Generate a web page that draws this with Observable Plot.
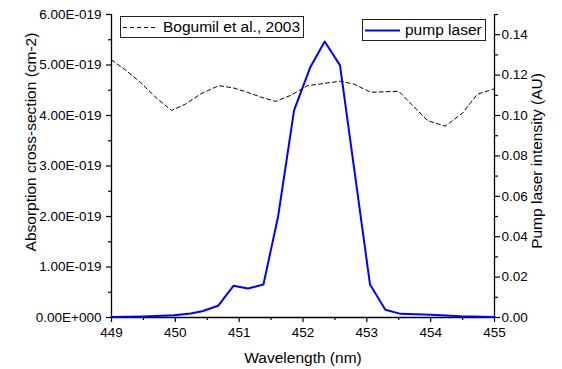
<!DOCTYPE html>
<html>
<head>
<meta charset="utf-8">
<script src="https://cdn.jsdelivr.net/npm/d3@7"></script>
<script src="https://cdn.jsdelivr.net/npm/@observablehq/plot@0.6"></script>
<style>
  html, body { margin: 0; padding: 0; background: #fff; }
  #wrap { position: relative; width: 562px; height: 369px; font-family: "Liberation Sans", Arial, sans-serif; }
  .legend { position: absolute; box-sizing: border-box; border: 1px solid #222; background: #fff;
            display: flex; align-items: center; font-size: 15.5px; color: #000; white-space: nowrap; }
  .legend svg { display: block; flex: none; }
</style>
</head>
<body>
<div id="wrap"></div>
<script>
// Bogumil et al., 2003 absorption cross-section (cm^2), left axis
const bogWavelength = [449.0, 449.2, 449.45, 449.7, 449.94, 450.15, 450.4, 450.68, 450.9, 451.13, 451.35, 451.57, 451.81, 452.07, 452.59, 452.8, 453.06, 453.5, 453.95, 454.23, 454.5, 454.73, 455.0];
const bogValue = [5.10e-19, 4.92e-19, 4.66e-19, 4.35e-19, 4.10e-19, 4.22e-19, 4.43e-19, 4.59e-19, 4.55e-19, 4.46e-19, 4.36e-19, 4.28e-19, 4.40e-19, 4.59e-19, 4.68e-19, 4.62e-19, 4.46e-19, 4.48e-19, 3.90e-19, 3.79e-19, 4.05e-19, 4.42e-19, 4.53e-19];

// pump laser intensity (AU), right axis
const pumpWavelength = [449.0, 449.5, 449.98, 450.24, 450.42, 450.67, 450.91, 451.14, 451.38, 451.61, 451.86, 452.11, 452.34, 452.58, 453.05, 453.29, 453.53, 454.0, 454.47, 455.0];
const pumpValue = [0.0002, 0.0005, 0.0011, 0.0020, 0.0031, 0.0058, 0.0157, 0.0144, 0.0163, 0.0500, 0.1025, 0.1236, 0.1366, 0.1248, 0.0163, 0.0038, 0.0018, 0.0013, 0.0006, 0.0003];

// axis ticks
const xTicks = [449, 450, 451, 452, 453, 454, 455];
const xMinorTicks = [449.5, 450.5, 451.5, 452.5, 453.5, 454.5];
const leftTicks = [0, 1e-19, 2e-19, 3e-19, 4e-19, 5e-19, 6e-19];
const leftMinorTicks = [0.5e-19, 1.5e-19, 2.5e-19, 3.5e-19, 4.5e-19, 5.5e-19];
const rightTicks = [0, 0.02, 0.04, 0.06, 0.08, 0.10, 0.12, 0.14];
const rightMinorTicks = [0.01, 0.03, 0.05, 0.07, 0.09, 0.11, 0.13, 0.15];

const leftMax = 6e-19, rightMax = 0.15;
const K = leftMax / rightMax; // map right-axis units onto the left scale

const bog = bogWavelength.map((w, i) => ({w, v: bogValue[i]}));
const pump = pumpWavelength.map((w, i) => ({w, v: pumpValue[i]}));

function fmtE(d) {
  if (d === 0) return "0.00E+000";
  const e = Math.floor(Math.log10(Math.abs(d)) + 1e-9);
  const m = d / Math.pow(10, e);
  return m.toFixed(2) + "E" + (e < 0 ? "-" : "+") + String(Math.abs(e)).padStart(3, "0");
}

const chart = Plot.plot({
  width: 562,
  height: 369,
  marginLeft: 111,
  marginRight: 68,
  marginTop: 14,
  marginBottom: 52,
  style: {fontFamily: "'Liberation Sans', Arial, sans-serif", fontSize: "13.5px", color: "#000", background: "#fff"},
  x: {domain: [449, 455], label: null},
  y: {domain: [0, leftMax], label: null},
  marks: [
    Plot.axisX(xTicks, {anchor: "bottom", tickSize: 5, tickPadding: 5, tickFormat: d => String(d), label: null, strokeWidth: 1.2}),
    Plot.axisX(xMinorTicks, {anchor: "bottom", tickSize: 3, tickFormat: () => "", label: null, strokeWidth: 1.2}),
    Plot.axisY(leftTicks, {anchor: "left", tickSize: 5, tickPadding: 5, tickFormat: fmtE, label: null, strokeWidth: 1.2}),
    Plot.axisY(leftMinorTicks, {anchor: "left", tickSize: 3, tickFormat: () => "", label: null, strokeWidth: 1.2}),
    Plot.axisY(rightTicks.map(v => v * K), {anchor: "right", tickSize: 5, tickPadding: 2, tickFormat: d => (d / K).toFixed(2), label: null, strokeWidth: 1.2}),
    Plot.axisY(rightMinorTicks.map(v => v * K), {anchor: "right", tickSize: 3, tickFormat: () => "", label: null, strokeWidth: 1.2}),
    Plot.ruleX([449, 455], {stroke: "#000", strokeWidth: 1.3}),
    Plot.ruleY([0], {stroke: "#000", strokeWidth: 1.3}),
    Plot.line(bog, {x: "w", y: "v", stroke: "#000", strokeWidth: 1, strokeDasharray: "4,3"}),
    Plot.line(pump, {x: "w", y: d => d.v * K, stroke: "#0000ff", strokeWidth: 2}),
    Plot.text(["Wavelength (nm)"], {frameAnchor: "bottom", dy: 41, fontSize: 15.5, textAnchor: "middle", lineAnchor: "middle", fill: "#000"}),
    Plot.text(["Absorption cross-section (cm-2)"], {frameAnchor: "left", rotate: -90, dx: -80, dy: -24, fontSize: 15.5, textAnchor: "middle", lineAnchor: "middle", fill: "#000"}),
    Plot.text(["Pump laser intensity (AU)"], {frameAnchor: "right", rotate: -90, dx: 43, dy: -5, fontSize: 15.5, textAnchor: "middle", lineAnchor: "middle", fill: "#000"})
  ]
});

const wrap = document.getElementById("wrap");
wrap.appendChild(chart);

function addLegend(left, top, width, sampleDash, sampleColor, sampleWidth, label) {
  const div = document.createElement("div");
  div.className = "legend";
  div.style.left = left + "px";
  div.style.top = top + "px";
  div.style.width = width + "px";
  div.style.height = "22px";
  const s = d3.create("svg").attr("width", 40).attr("height", 20);
  s.append("line").attr("x1", 2).attr("x2", 37).attr("y1", 10.5).attr("y2", 10.5)
    .attr("stroke", sampleColor).attr("stroke-width", sampleWidth)
    .attr("stroke-dasharray", sampleDash || null);
  div.appendChild(s.node());
  const t = document.createElement("span");
  t.textContent = label;
  t.style.marginLeft = "2px";
  div.appendChild(t);
  wrap.appendChild(div);
}
addLegend(120, 16, 184, "4,3", "#000", 1, "Bogumil et al., 2003");
addLegend(362, 19, 124, null, "#0000ff", 2, "pump laser");
</script>
</body>
</html>
